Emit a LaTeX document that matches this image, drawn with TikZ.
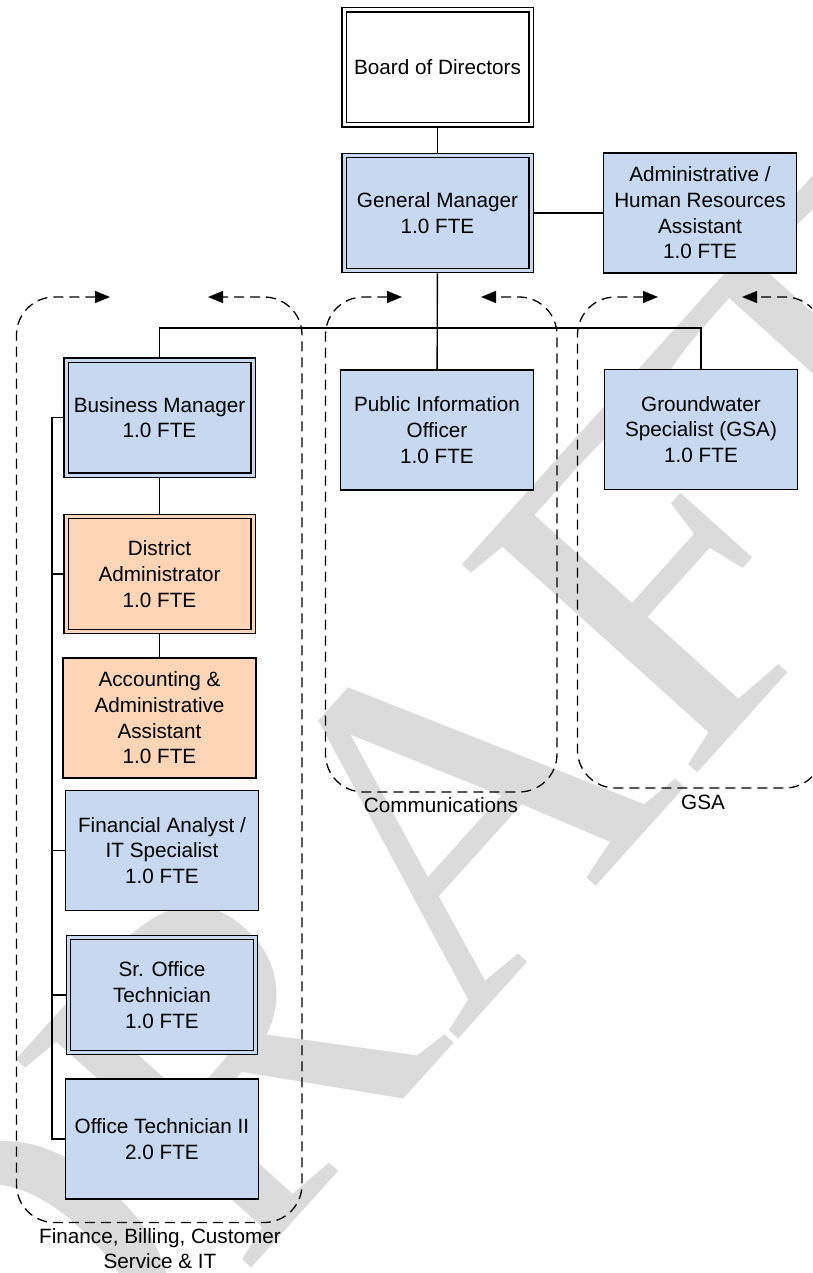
\documentclass[tikz,border=0pt]{standalone}
\usepackage{fontspec}
\setmainfont{Liberation Sans}
\newfontfamily\draftfont{Liberation Serif}
\usetikzlibrary{arrows.meta}
\definecolor{posblue}{RGB}{198,217,241}
\definecolor{posorange}{RGB}{251,213,181}
\definecolor{draftgray}{RGB}{219,219,219}
\newcommand\postfont{\fontsize{20.7}{25.7}\selectfont}

\begin{document}
\begin{tikzpicture}[x=1pt,y=-1pt,
  post/.style={draw,line width=1.4pt,fill=posblue,minimum width=193pt,minimum height=120pt,
    inner sep=0pt,align=center,font=\postfont},
  lead/.style={post,double=posblue,line width=1.3pt,double distance=3pt,
    minimum width=187pt,minimum height=115pt,outer sep=2.9pt},
  wire/.style={line width=1.4pt},
  group/.style={line width=1.3pt,dash pattern=on 10pt off 6pt,rounded corners=38pt,
    {Triangle[length=15pt,width=12pt]}-{Triangle[length=15pt,width=12pt]}},
  glabel/.style={align=center,font=\postfont}]
  \useasboundingbox (0,0) rectangle (812,1273);
  \clip (0,0) rectangle (812,1273);
  % watermark
  \node[rotate=48,text=draftgray,inner sep=0pt,font={\fontsize{480}{480}\draftfont}] (draft) at (418,848) {DRAFT};
  % top of the chart
  \node[lead,fill=white,double=white] (board) at (437.5,67.5) {Board of Directors};
  \node[lead] (gm) at (437.5,213) {General Manager\\1.0 FTE};
  \node[post] (hr) at (700,213) {Administrative /\\Human Resources\\Assistant\\1.0 FTE};
  \node[post] (pio) at (437,430) {Public Information\\Officer\\1.0 FTE};
  \node[post] (gws) at (701,429.5) {Groundwater\\Specialist (GSA)\\1.0 FTE};
  % finance column
  \node[lead] (bm) at (159.5,417.5) {Business Manager\\1.0 FTE};
  \node[lead,fill=posorange,double=posorange] (da) at (159.5,574) {District\\Administrator\\1.0 FTE};
  \node[post,fill=posorange] (aaa) at (159.5,718) {Accounting \&\\Administrative\\Assistant\\1.0 FTE};
  \node[post] (fa) at (162,850.5) {Financial Analyst /\\IT Specialist\\1.0 FTE};
  \node[lead] (srot) at (162,995) {Sr. Office\\Technician\\1.0 FTE};
  \node[post] (ot) at (162,1139) {Office Technician II\\2.0 FTE};
  \coordinate (spine) at (52,417.5);
  % lines
  \draw[wire] (board) -- (gm);
  \draw[wire] (gm) -- (hr);
  \draw[wire] (gm) -- (pio);
  \draw[wire] (bm.north) -- ++(0,-29) -| (gws.north);
  \draw[wire] (bm) -- (da);
  \draw[wire] (da) -- (aaa);
  \draw[wire] (bm.west) -- (spine) |- (ot.west);
  \foreach \n in {da,fa,srot}
    \draw[wire] (\n.west) -- (\n.west -| spine);
  % groups
  \draw[group] (110,297) -| (16.5,1222.5) -| (302,297) -- (208,297);
  \draw[group] (402,297) -| (325.5,792) -| (557,297) -- (481,297);
  \draw[group] (658,297) -| (577.5,788) -| (823,297) -- (742,297);
  \node[glabel] (finlbl) at (160,1248.5) {Finance, Billing, Customer\\Service \& IT};
  \node[glabel] (commlbl) at (441,805) {Communications};
  \node[glabel] (gsalbl) at (703,802) {GSA};
\end{tikzpicture}
\end{document}
